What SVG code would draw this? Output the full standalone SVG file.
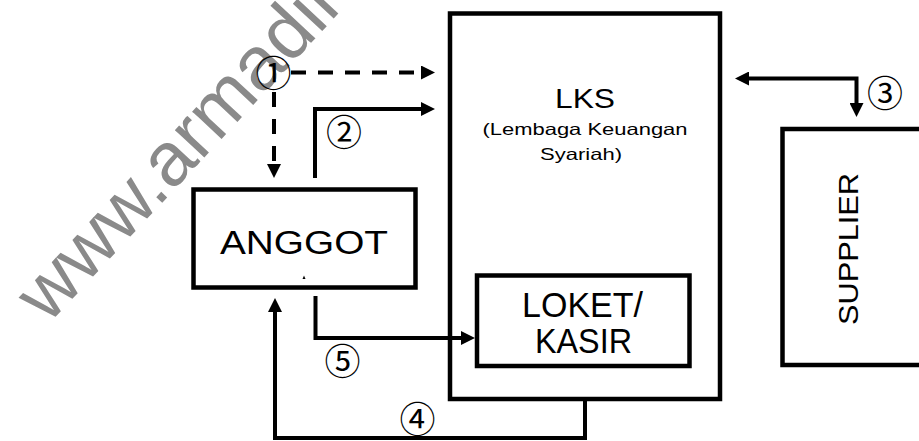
<svg xmlns="http://www.w3.org/2000/svg" width="919" height="441" viewBox="0 0 919 441">
<style>
.box{fill:none;stroke:#000;stroke-width:4.5}
.ln{fill:none;stroke:#000;stroke-width:4}
.dash{stroke-dasharray:15 12}
.lbl{font-family:"Liberation Sans",Arial,sans-serif;fill:#000;text-anchor:middle}
.num{font-family:"Noto Sans CJK JP",sans-serif;fill:#000;text-anchor:middle;font-size:36px}
.wm{font-family:"Liberation Sans",Arial,sans-serif;fill:#8a8a8a;font-size:76px}
</style>
<defs>
<marker id="ah" markerUnits="userSpaceOnUse" markerWidth="14" markerHeight="14" refX="8" refY="7" orient="auto-start-reverse" viewBox="0 0 14 14">
<path d="M0,0 L14,7 L0,14 z" fill="#000"/>
</marker>
</defs>
<rect width="919" height="441" fill="#fff"/>
<text class="wm" transform="translate(48,325) rotate(-47)">www.armadil</text>
<g id="lks">
<rect class="box" x="450" y="13.5" width="270" height="385.5"/>
<text class="lbl" x="585" y="108" font-size="28" textLength="60" lengthAdjust="spacingAndGlyphs">LKS</text>
<text class="lbl" x="585" y="135" font-size="16.5" textLength="205" lengthAdjust="spacingAndGlyphs">(Lembaga Keuangan</text>
<text class="lbl" x="581" y="160" font-size="16.5" textLength="82" lengthAdjust="spacingAndGlyphs">Syariah)</text>
</g>
<g id="loket">
<rect class="box" x="477" y="275.5" width="212.5" height="90.5"/>
<text class="lbl" x="582.5" y="316.7" font-size="35" textLength="121" lengthAdjust="spacingAndGlyphs">LOKET/</text>
<text class="lbl" x="583.5" y="353" font-size="35" textLength="97" lengthAdjust="spacingAndGlyphs">KASIR</text>
</g>
<g id="anggot">
<rect class="box" x="193.5" y="189.5" width="222" height="98"/>
<text class="lbl" x="304" y="254" font-size="33" textLength="168" lengthAdjust="spacingAndGlyphs">ANGGOT</text>
<path d="M302.5,279 L304,275.5 L305.5,279 z" fill="#000"/>
</g>
<g id="supplier">
<rect class="box" x="782.5" y="129" width="200" height="236"/>
<text class="lbl" transform="translate(858,249) rotate(-90)" font-size="28" textLength="152" lengthAdjust="spacingAndGlyphs">SUPPLIER</text>
</g>
<g id="connectors">
<path class="ln dash" d="M291,72.5 H429" marker-end="url(#ah)"/>
<path class="ln dash" d="M274,92 V172" marker-end="url(#ah)"/>
<path class="ln" d="M315,178 V109 H429" marker-end="url(#ah)"/>
<path class="ln" d="M741,78.5 H856.5 V111" marker-start="url(#ah)" marker-end="url(#ah)"/>
<path class="ln" d="M315.5,296 V338 H469" marker-end="url(#ah)"/>
<path class="ln" d="M585,401 V438 H275 V304" marker-end="url(#ah)"/>
</g>
<g id="labels">
<text class="num" x="273.5" y="87">①</text>
<text class="num" x="344" y="146">②</text>
<text class="num" x="885" y="107">③</text>
<text class="num" x="417.5" y="433">④</text>
<text class="num" x="342.5" y="374.5">⑤</text>
</g>
</svg>
